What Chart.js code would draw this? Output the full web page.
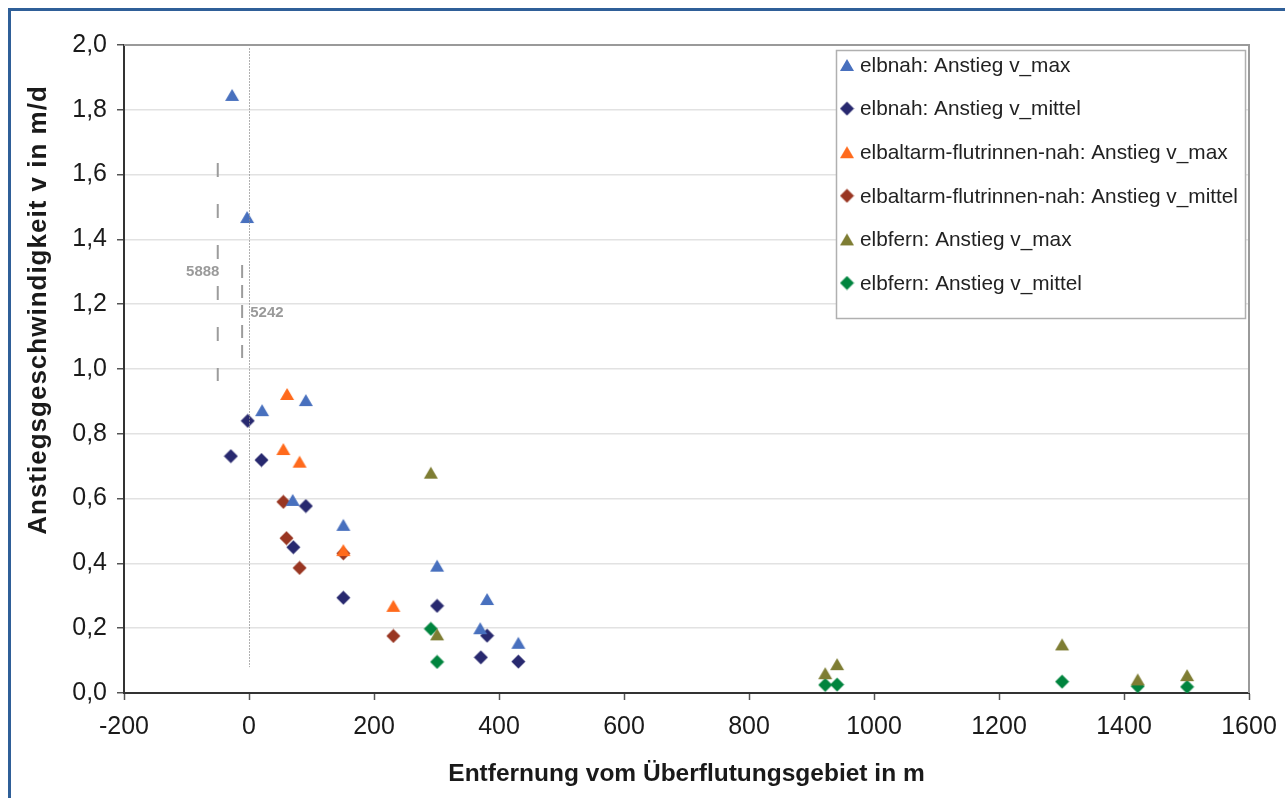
<!DOCTYPE html>
<html>
<head>
<meta charset="utf-8">
<script src="https://cdn.jsdelivr.net/npm/chart.js@4/dist/chart.umd.min.js"></script>
<style>
html,body{margin:0;padding:0;background:#fff;}
#wrap{width:1285px;height:798px;position:relative;}
</style>
</head>
<body>
<div id="wrap"><canvas id="c" width="1285" height="798"></canvas></div>
<script>
// ---- data ----
const seriesNames = [
  'elbnah: Anstieg v_max',
  'elbnah: Anstieg v_mittel',
  'elbaltarm-flutrinnen-nah: Anstieg v_max',
  'elbaltarm-flutrinnen-nah: Anstieg v_mittel',
  'elbfern: Anstieg v_max',
  'elbfern: Anstieg v_mittel'
];
const elbnahMaxX    = [-27, -3, 21, 91, 70, 151, 301, 381, 370, 431];
const elbnahMaxY    = [1.846, 1.469, 0.873, 0.904, 0.596, 0.519, 0.393, 0.290, 0.200, 0.155];
const elbnahMitX    = [-29, -2, 20, 91, 71, 151, 301, 381, 371, 431];
const elbnahMitY    = [0.731, 0.840, 0.719, 0.577, 0.450, 0.294, 0.269, 0.177, 0.110, 0.097];
const altarmMaxX    = [61, 55, 81, 151, 231];
const altarmMaxY    = [0.923, 0.753, 0.714, 0.441, 0.269];
const altarmMitX    = [55, 60, 81, 151, 231];
const altarmMitY    = [0.590, 0.478, 0.386, 0.431, 0.176];
const fernMaxX      = [291, 301, 922, 941, 1301, 1422, 1501];
const fernMaxY      = [0.680, 0.181, 0.061, 0.089, 0.150, 0.042, 0.055];
const fernMitX      = [291, 301, 922, 941, 1301, 1422, 1501];
const fernMitY      = [0.198, 0.096, 0.025, 0.026, 0.035, 0.021, 0.019];
const xTicks = [-200, 0, 200, 400, 600, 800, 1000, 1200, 1400, 1600];
const yTicks = [0, 0.2, 0.4, 0.6, 0.8, 1.0, 1.2, 1.4, 1.6, 1.8, 2.0];
const xTitle = 'Entfernung vom Überflutungsgebiet in m';
const yTitle = 'Anstiegsgeschwindigkeit v in m/d';
// annotation values (data units)
const zeroLine = {x: 0, y1: 0.08, y2: 1.99};
const dash5888 = {x: -50, y1: 0.963, y2: 1.636, label: '5888', lx: -74, ly: 1.30};
const dash5242 = {x: -11, y1: 1.022, y2: 1.321, label: '5242', lx: 2, ly: 1.173};

const colors = ['#4870BE', '#28296F', '#FF6A1C', '#993622', '#7E7D33', '#00843E'];
const shapes = ['tri', 'dia', 'tri', 'dia', 'tri', 'dia'];
const FONT = '"Liberation Sans", Arial, sans-serif';

function markerImg(shape, color) {
  const cv = document.createElement('canvas');
  const ctx = cv.getContext('2d');
  if (shape === 'tri') {
    cv.width = 16; cv.height = 14;
    ctx.beginPath(); ctx.moveTo(8, 1); ctx.lineTo(15, 13); ctx.lineTo(1, 13); ctx.closePath();
  } else {
    cv.width = 15; cv.height = 15;
    ctx.beginPath(); ctx.moveTo(7.5, 0.5); ctx.lineTo(14.5, 7.5); ctx.lineTo(7.5, 14.5); ctx.lineTo(0.5, 7.5); ctx.closePath();
  }
  ctx.fillStyle = color; ctx.fill();
  return cv;
}
function pts(xs, ys) { return xs.map((x, i) => ({x: x, y: ys[i]})); }
const allData = [
  pts(elbnahMaxX, elbnahMaxY), pts(elbnahMitX, elbnahMitY),
  pts(altarmMaxX, altarmMaxY), pts(altarmMitX, altarmMitY),
  pts(fernMaxX, fernMaxY), pts(fernMitX, fernMitY)
];
const images = shapes.map((s, i) => markerImg(s, colors[i]));

const datasets = seriesNames.map((n, i) => ({
  label: n, data: allData[i], pointStyle: images[i],
  backgroundColor: colors[i], borderColor: colors[i], showLine: false
}));

const deco = {
  id: 'deco',
  beforeDraw(chart) {
    const ctx = chart.ctx;
    ctx.save();
    ctx.fillStyle = '#fff'; ctx.fillRect(0, 0, chart.width, chart.height);
    ctx.fillStyle = '#2F5F98';
    ctx.fillRect(8, 8, chart.width - 8, 3);
    ctx.fillRect(8, 8, 3, chart.height - 8);
    ctx.restore();
  },
  afterDraw(chart) {
    const ctx = chart.ctx, a = chart.chartArea;
    const xs = chart.scales.x, ys = chart.scales.y;
    ctx.save();
    // plot top & right borders
    ctx.strokeStyle = '#9a9a9a'; ctx.lineWidth = 2;
    ctx.beginPath(); ctx.moveTo(a.left, a.top); ctx.lineTo(a.right, a.top); ctx.lineTo(a.right, a.bottom); ctx.stroke();
    // zero dotted line
    ctx.strokeStyle = 'rgba(140,140,140,0.9)'; ctx.lineWidth = 1; ctx.setLineDash([1.5, 1.5]);
    let px = Math.round(xs.getPixelForValue(zeroLine.x)) + 0.5;
    ctx.beginPath(); ctx.moveTo(px, ys.getPixelForValue(zeroLine.y2)); ctx.lineTo(px, ys.getPixelForValue(zeroLine.y1)); ctx.stroke();
    // dashed lines
    ctx.strokeStyle = '#9c9c9c'; ctx.lineWidth = 2;
    ctx.setLineDash([14, 27]);
    px = xs.getPixelForValue(dash5888.x);
    ctx.beginPath(); ctx.moveTo(px, ys.getPixelForValue(dash5888.y2)); ctx.lineTo(px, ys.getPixelForValue(dash5888.y1)); ctx.stroke();
    ctx.setLineDash([13, 7]);
    px = xs.getPixelForValue(dash5242.x);
    ctx.beginPath(); ctx.moveTo(px, ys.getPixelForValue(dash5242.y2)); ctx.lineTo(px, ys.getPixelForValue(dash5242.y1)); ctx.stroke();
    ctx.setLineDash([]);
    ctx.fillStyle = '#9a9a9a'; ctx.font = 'bold 15px ' + FONT;
    ctx.textBaseline = 'middle';
    ctx.textAlign = 'center';
    ctx.fillText(dash5888.label, xs.getPixelForValue(dash5888.lx), ys.getPixelForValue(dash5888.ly));
    ctx.textAlign = 'left';
    ctx.fillText(dash5242.label, xs.getPixelForValue(dash5242.lx), ys.getPixelForValue(dash5242.ly));
    // legend
    const lx = 836, ly = 50, lw = 409, lh = 268;
    ctx.fillStyle = '#fff'; ctx.fillRect(lx, ly, lw, lh);
    ctx.strokeStyle = '#b0b0b0'; ctx.lineWidth = 1.5; ctx.strokeRect(lx + 0.5, ly + 0.5, lw, lh);
    ctx.font = '20.8px ' + FONT;
    ctx.fillStyle = '#222'; ctx.textAlign = 'left'; ctx.textBaseline = 'middle';
    chart.data.datasets.forEach((d, i) => {
      const cy = 65 + i * 43.6;
      const img = d.pointStyle;
      ctx.drawImage(img, 847 - img.width / 2, cy - img.height / 2);
      ctx.fillText(d.label, 860, cy + 1);
    });
    // axis titles
    ctx.fillStyle = '#1a1a1a';
    ctx.font = 'bold 24.5px ' + FONT;
    ctx.textAlign = 'center'; ctx.textBaseline = 'middle';
    ctx.fillText(xTitle, (a.left + a.right) / 2, 774);
    ctx.save();
    ctx.translate(39, 310);
    ctx.rotate(-Math.PI / 2);
    ctx.font = 'bold 26px ' + FONT;
    if ('letterSpacing' in ctx) ctx.letterSpacing = '1px';
    ctx.fillText(yTitle, 0, 0);
    ctx.restore();
    ctx.restore();
  }
};

const tickFont = {family: FONT, size: 25};
new Chart(document.getElementById('c'), {
  type: 'scatter',
  data: {datasets: datasets},
  options: {
    responsive: false, animation: false,
    layout: {padding: {top: 45, right: 36, left: 0, bottom: 0}},
    plugins: {legend: {display: false}, tooltip: {enabled: false}},
    scales: {
      x: {
        type: 'linear', min: -200, max: 1600,
        afterBuildTicks: s => { s.ticks = xTicks.map(v => ({value: v})); },
        afterFit: s => { s.height = 105; s.paddingLeft = 0; s.paddingRight = 0; },
        ticks: {color: '#1a1a1a', font: tickFont, padding: 12, maxRotation: 0, autoSkip: false,
          callback: v => String(v)},
        grid: {drawOnChartArea: false, tickColor: '#555', tickLength: 7, tickWidth: 1.5},
        border: {color: '#333', width: 2}
      },
      y: {
        type: 'linear', min: 0, max: 2,
        afterBuildTicks: s => { s.ticks = yTicks.map(v => ({value: v})); },
        afterFit: s => { s.width = 124; s.paddingTop = 0; s.paddingBottom = 0; },
        ticks: {color: '#1a1a1a', font: tickFont, padding: 10,
          callback: v => v.toFixed(1).replace('.', ',')},
        grid: {color: '#e2e2e2', lineWidth: 1.5, tickColor: '#555', tickLength: 7, tickWidth: 1.5},
        border: {color: '#333', width: 2}
      }
    }
  },
  plugins: [deco]
});
</script>
</body>
</html>
